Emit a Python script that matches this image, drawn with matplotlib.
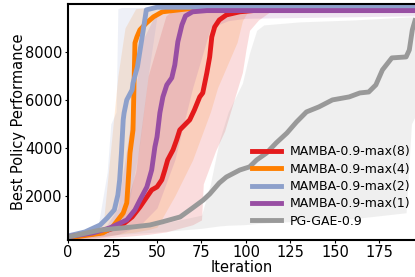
import matplotlib
matplotlib.use('Agg')
import matplotlib.pyplot as plt
import numpy as np

'''
Best policy performance vs iteration: MAMBA (different max settings) against PG-GAE
'''

# line data (iteration, best performance)
red_x = [0, 18, 26, 31, 36, 40.4, 44.3, 47, 50, 52.7, 54.4, 56, 59, 61, 62.8, 65.6, 68.4, 71, 74, 75.7, 78, 79.6, 80.8, 82.4, 85, 89, 96.5, 110, 150, 195]
red_y = [300, 460, 670, 830, 1125, 1540, 1960, 2250, 2375, 2670, 3080, 3500, 3920, 4330, 4750, 4960, 5170, 5580, 6125, 6290, 7125, 7790, 8625, 9040, 9330, 9540, 9670, 9760, 9800, 9820]

orange_x = [0, 19.6, 25, 28, 31, 33, 33.6, 34.8, 36.5, 37.6, 38.7, 40.4, 44, 48, 53, 67, 90, 195]
orange_y = [250, 460, 710, 1000, 1290, 1710, 2375, 3790, 4750, 8375, 8625, 8920, 9200, 9460, 9670, 9790, 9830, 9850]

blue_x = [0, 9.5, 18, 22, 26, 28, 29, 30, 31, 31.5, 33, 36, 36.5, 39, 42, 44, 50, 195]
blue_y = [333, 500, 790, 1080, 1420, 2040, 2670, 3790, 5170, 5460, 6000, 6420, 6700, 7380, 8790, 9750, 9860, 9870]

purple_x = [0, 14, 23.5, 33, 37.6, 40.4, 44.3, 47, 48.8, 50, 51.6, 53.3, 55.5, 58.3, 60, 61.7, 64, 66, 70, 78, 195]
purple_y = [300, 460, 670, 1000, 1420, 1830, 2375, 3080, 4040, 4460, 5460, 6125, 6625, 6920, 7460, 8420, 9125, 9500, 9670, 9720, 9720]

gray_x = [0, 18, 36.5, 46, 53, 63, 70, 76, 79.6, 85, 89, 96.5, 102, 106, 111.6, 117, 123, 128.4, 134, 141, 148.6, 158, 164, 169, 173, 176.7, 182, 190, 191.8, 193.5, 195]
gray_y = [290, 580, 710, 790, 920, 1125, 1500, 1830, 2080, 2540, 2790, 3080, 3210, 3500, 3790, 4210, 4620, 5080, 5500, 5710, 6000, 6125, 6290, 6330, 6625, 7250, 7750, 7790, 8080, 8920, 9300]

# shaded spread of each run
red_bx = [0, 20, 30, 38, 45, 55, 60, 70, 75, 76, 83, 88, 98, 100, 102, 107, 115, 195]
red_lo = [200, 250, 300, 350, 400, 500, 600, 800, 1000, 2500, 3900, 4700, 7150, 8100, 8900, 9330, 9750, 9800]
red_hi = [300, 500, 1000, 3000, 7000, 9500, 9800, 9850, 9850, 9850, 9850, 9850, 9850, 9850, 9850, 9850, 9850, 9850]

orange_bx = [0, 15, 20, 24, 28, 32, 38, 45, 50, 60, 70, 80, 84, 95, 98, 102, 195]
orange_lo = [200, 250, 300, 350, 400, 450, 500, 600, 700, 2000, 3500, 5500, 6500, 8400, 9300, 9800, 9850]
orange_hi = [300, 500, 1000, 4000, 7000, 9000, 9800, 9850, 9850, 9850, 9850, 9850, 9850, 9850, 9850, 9850, 9850]

blue_bx = [0, 10, 17, 22, 24, 27, 28, 30, 35, 40, 45, 50, 60, 195]
blue_lo = [250, 300, 400, 500, 600, 700, 750, 800, 2000, 4000, 7000, 9500, 9800, 9850]
blue_hi = [350, 500, 800, 3000, 5000, 5500, 9800, 9850, 9850, 9850, 9850, 9850, 9850, 9850]

purple_bx = [0, 20, 28, 35, 42, 50, 60, 70, 80, 90, 100, 195]
purple_lo = [200, 300, 400, 600, 900, 1500, 3500, 6500, 9000, 9300, 9400, 9500]
purple_hi = [300, 600, 1500, 5000, 8500, 9700, 9750, 9750, 9750, 9750, 9750, 9750]

gray_bx = [0, 50, 75, 80, 85, 90, 98, 102, 106, 110, 130, 160, 190, 193, 195]
gray_lo = [250, 500, 650, 700, 750, 780, 800, 820, 850, 870, 950, 1050, 1300, 5000, 5300]
gray_hi = [350, 800, 1200, 2500, 4300, 5500, 6700, 7960, 8900, 9125, 9250, 9330, 9450, 9460, 9470]

series = [
    ('MAMBA-0.9-max(8)', '#e41a1c', red_x, red_y, red_bx, red_lo, red_hi),
    ('MAMBA-0.9-max(4)', '#ff7f00', orange_x, orange_y, orange_bx, orange_lo, orange_hi),
    ('MAMBA-0.9-max(2)', '#8da0cb', blue_x, blue_y, blue_bx, blue_lo, blue_hi),
    ('MAMBA-0.9-max(1)', '#984ea3', purple_x, purple_y, purple_bx, purple_lo, purple_hi),
    ('PG-GAE-0.9', '#999999', gray_x, gray_y, gray_bx, gray_lo, gray_hi),
]

fig = plt.figure(figsize=(4.15, 2.77), dpi=100)
ax = fig.add_axes([0.164, 0.134, 0.836, 0.852])

for label, color, x, y, bx, lo, hi in series:
    ax.fill_between(bx, lo, hi, color=color, alpha=0.15, linewidth=0)
for label, color, x, y, bx, lo, hi in series:
    ax.plot(x, y, color=color, linewidth=3.5, label=label)

ax.set_xlim(0, 195)
ax.set_ylim(170, 10000)
ax.set_xticks(np.arange(0, 176, 25))
ax.set_yticks([2000, 4000, 6000, 8000])
ax.tick_params(labelsize=10.5, length=2.5, pad=1.5)
ax.spines['right'].set_visible(False)
for s in ['left', 'top', 'bottom']:
    ax.spines[s].set_linewidth(1.5)
ax.set_xlabel('Iteration', fontsize=10.5, labelpad=0)
ax.set_ylabel('Best Policy Performance', fontsize=10.5, labelpad=-1)
ax.legend(loc='lower right', bbox_to_anchor=(1.0, 0.03), borderaxespad=0,
          frameon=False, fontsize=9, labelspacing=0.35, handlelength=2.3,
          handletextpad=0.7)

plt.savefig('out.png', dpi=100)
